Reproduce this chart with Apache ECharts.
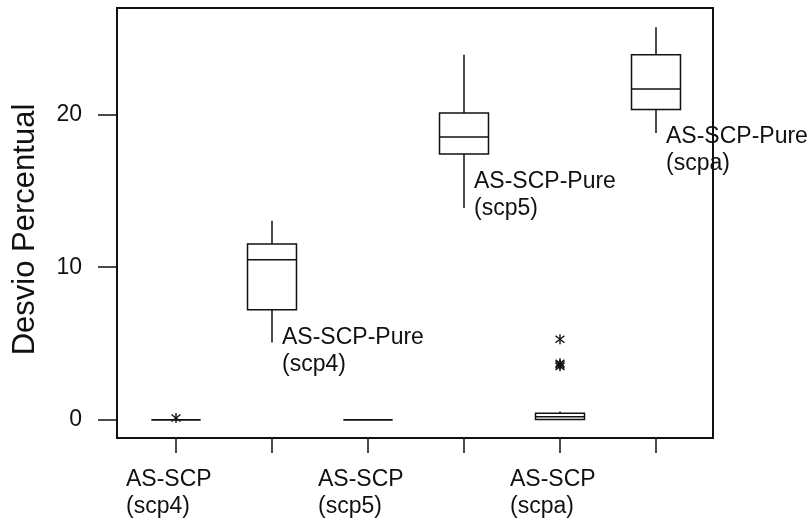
<!DOCTYPE html>
<html>
<head>
<meta charset="utf-8">
<script src="https://cdn.jsdelivr.net/npm/echarts@6/dist/echarts.min.js"></script>
<style>
html, body { margin: 0; padding: 0; background: #fff; }
#chart { width: 812px; height: 531px; }
</style>
</head>
<body>
<div id="chart"></div>
<script>
const groups = ['AS-SCP (scp4)', 'AS-SCP-Pure (scp4)', 'AS-SCP (scp5)', 'AS-SCP-Pure (scp5)', 'AS-SCP (scpa)', 'AS-SCP-Pure (scpa)'];
// min, q1, median, q3, max
const boxStats = [
  [0, 0, 0, 0, 0],
  [5.07, 7.21, 10.49, 11.52, 13.05],
  [0, 0, 0, 0, 0],
  [13.88, 17.42, 18.54, 20.11, 23.93],
  [0, 0.02, 0.2, 0.42, 0.53],
  [18.8, 20.35, 21.68, 23.93, 25.73]
];
// [group index, value]
const outliers = [[0, 0.11], [4, 5.28], [4, 3.7], [4, 3.6], [4, 3.5]];
const yTicks = [0, 10, 20];
const yName = 'Desvio Percentual';

const font = '"Liberation Sans", Arial, sans-serif';
const ink = '#111';

const chart = echarts.init(document.getElementById('chart'));

function isPure(name) {
  return name.indexOf('Pure') >= 0;
}

const option = {
  animation: false,
  backgroundColor: '#fff',
  grid: [
    // outer frame
    { left: 117, top: 8, right: 99, bottom: 93, show: true, borderColor: ink, borderWidth: 2, backgroundColor: 'transparent' },
    // data area
    { left: 128, top: 8, width: 576, bottom: 93 }
  ],
  xAxis: [
    { gridIndex: 0, type: 'category', show: false },
    {
      gridIndex: 1,
      type: 'category',
      data: groups,
      axisLine: { show: false, onZero: false },
      axisTick: { show: true, alignWithLabel: true, interval: 0, length: 15, lineStyle: { color: ink, width: 1.5 } },
      axisLabel: {
        interval: 0,
        margin: 28,
        formatter: function (value) {
          if (isPure(value)) return '';
          return value.split(' ').map(s => '{a|' + s + '}').join('\n');
        },
        rich: {
          a: { width: 100, align: 'left', fontSize: 23, lineHeight: 27, fontFamily: font, color: ink }
        }
      }
    }
  ],
  yAxis: [
    { gridIndex: 0, type: 'value', show: false, min: -1.2, max: 27 },
    {
      gridIndex: 1,
      type: 'value',
      min: -1.2,
      max: 27,
      offset: 11,
      axisLine: { show: false },
      splitLine: { show: false },
      axisTick: { show: true, length: 19, customValues: yTicks, lineStyle: { color: ink, width: 1.5 } },
      axisLabel: { customValues: yTicks, margin: 35, fontSize: 23, fontFamily: font, color: ink },
      name: yName,
      nameLocation: 'middle',
      nameGap: 76,
      nameTextStyle: { fontSize: 31, fontFamily: font, color: ink, padding: [0, 13, 0, 0] }
    }
  ],
  series: [
    {
      name: 'boxes',
      type: 'custom',
      xAxisIndex: 1,
      yAxisIndex: 1,
      encode: { x: 0, y: [1, 2, 3, 4, 5] },
      data: boxStats.map((s, i) => [i].concat(s)),
      renderItem: function (params, api) {
        const i = api.value(0);
        const lo = api.coord([i, api.value(1)]);
        const q1 = api.coord([i, api.value(2)]);
        const med = api.coord([i, api.value(3)]);
        const q3 = api.coord([i, api.value(4)]);
        const hi = api.coord([i, api.value(5)]);
        const half = api.size([1, 0])[0] * 0.51 / 2;
        const x = q1[0];
        const st = { stroke: ink, lineWidth: 1.5, fill: null };
        return {
          type: 'group',
          children: [
            { type: 'line', shape: { x1: x, y1: q3[1], x2: x, y2: hi[1] }, style: st },
            { type: 'line', shape: { x1: x, y1: q1[1], x2: x, y2: lo[1] }, style: st },
            { type: 'rect', shape: { x: x - half, y: q3[1], width: half * 2, height: q1[1] - q3[1] }, style: { stroke: ink, lineWidth: 1.5, fill: '#fff' } },
            { type: 'line', shape: { x1: x - half, y1: med[1], x2: x + half, y2: med[1] }, style: st }
          ]
        };
      }
    },
    {
      name: 'outliers',
      type: 'custom',
      xAxisIndex: 1,
      yAxisIndex: 1,
      data: outliers,
      renderItem: function (params, api) {
        const p = api.coord([api.value(0), api.value(1)]);
        const st = { stroke: ink, lineWidth: 1.4 };
        return {
          type: 'group',
          x: p[0],
          y: p[1],
          children: [
            { type: 'line', shape: { x1: 0, y1: -5, x2: 0, y2: 5 }, style: st },
            { type: 'line', shape: { x1: -4.5, y1: -3.5, x2: 4.5, y2: 3.5 }, style: st },
            { type: 'line', shape: { x1: -4.5, y1: 3.5, x2: 4.5, y2: -3.5 }, style: st }
          ]
        };
      }
    },
    {
      name: 'annotations',
      type: 'custom',
      xAxisIndex: 1,
      yAxisIndex: 1,
      data: groups.map((g, i) => [i, boxStats[i][1]]).filter(d => isPure(groups[d[0]])),
      renderItem: function (params, api) {
        const i = api.value(0);
        const p = api.coord([i, api.value(1)]);
        return {
          type: 'text',
          x: p[0] + 10,
          y: p[1] + 14,
          style: {
            text: groups[i].split(' ').join('\n'),
            font: '23px ' + font,
            lineHeight: 27,
            fill: ink,
            align: 'left',
            verticalAlign: 'top'
          }
        };
      }
    }
  ]
};

chart.setOption(option);
</script>
</body>
</html>
